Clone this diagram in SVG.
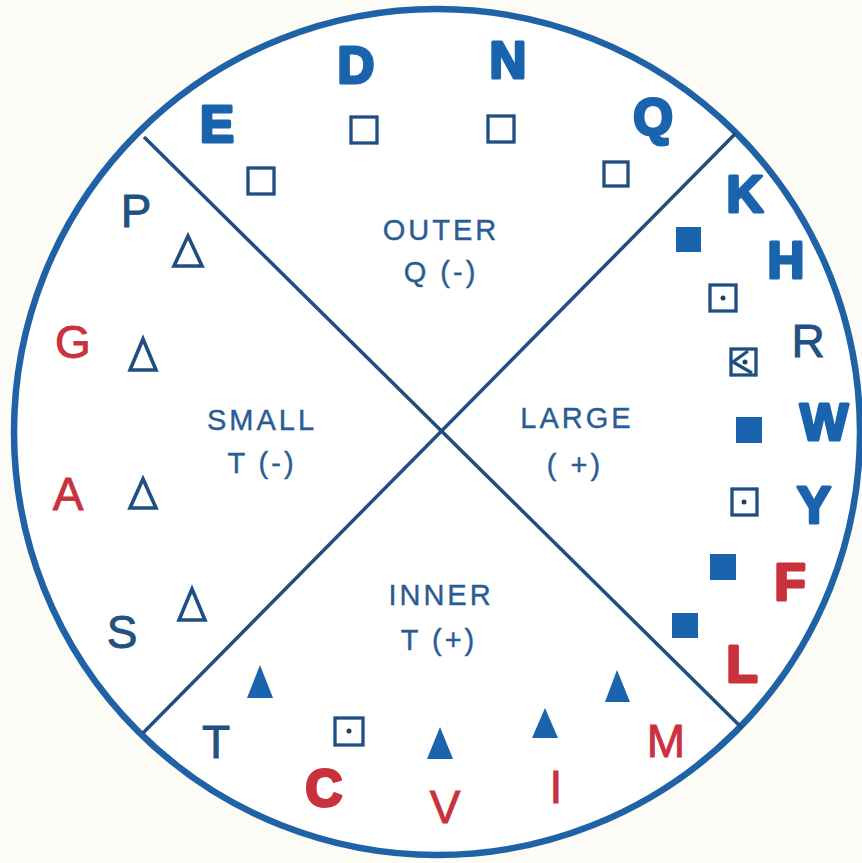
<svg xmlns="http://www.w3.org/2000/svg" width="862" height="863" viewBox="0 0 862 863">
<style>
.bg{fill:#fcfbf6}
.ring{fill:#ffffff;stroke:#1f62a6;stroke-width:6.5}
.div{stroke:#1f4f80;stroke-width:3.5;fill:none}
.lab{font-family:"Liberation Sans",Arial,sans-serif;font-size:29px;letter-spacing:3px;fill:#2a5c94;stroke:#2a5c94;stroke-width:0.4;text-anchor:middle}
.bb{font-family:"Liberation Sans",Arial,sans-serif;font-weight:bold;font-size:51px;fill:#1a63ad;stroke:#1a63ad;stroke-width:3.2;stroke-linejoin:round;text-anchor:middle}
.br{font-family:"Liberation Sans",Arial,sans-serif;font-weight:bold;font-size:51px;fill:#c9323c;stroke:#c9323c;stroke-width:3.2;stroke-linejoin:round;text-anchor:middle}
.nb{font-family:"Liberation Sans",Arial,sans-serif;font-size:46px;fill:#22517f;stroke:#22517f;stroke-width:0.9;text-anchor:middle}
.nr{font-family:"Liberation Sans",Arial,sans-serif;font-size:46px;fill:#c9323c;stroke:#c9323c;stroke-width:0.9;text-anchor:middle}
.hs{fill:none;stroke:#1f4f80;stroke-width:3.3}
.ht{fill:none;stroke:#1f4f80;stroke-width:3.6;stroke-linejoin:miter}
.fs{fill:#1a63ad}
.dot{fill:#1f3f60}
</style>
<rect class="bg" x="0" y="0" width="862" height="863"/>
<circle class="ring" cx="437" cy="432" r="423"/>
<g id="connectors">
<line class="div" x1="144" y1="137" x2="742" y2="728"/>
<line class="div" x1="736" y1="133" x2="143" y2="733"/>
</g>
<g id="outer">
<text class="lab" x="441" y="240">OUTER</text>
<text class="lab" x="441" y="282">Q (-)</text>
<text class="bb" x="217" y="142">E</text>
<text class="bb" x="356" y="83">D</text>
<text class="bb" x="508" y="78">N</text>
<text class="bb" x="653" y="135">Q</text>
<rect class="hs" x="351" y="117" width="26" height="26"/>
<rect class="hs" x="488" y="116" width="26" height="26"/>
<rect class="hs" x="248" y="168" width="26" height="26"/>
<rect class="hs" x="604" y="162" width="24" height="24"/>
</g>
<g id="small">
<text class="lab" x="262" y="430">SMALL</text>
<text class="lab" x="262" y="473">T (-)</text>
<text class="nb" x="136" y="227">P</text>
<text class="nr" x="73" y="358">G</text>
<text class="nr" x="68" y="510">A</text>
<text class="nb" x="122" y="648">S</text>
<polygon class="ht" points="188,236 174,266 202,266"/>
<polygon class="ht" points="143,339 130,370 156,370"/>
<polygon class="ht" points="143,479 130,508 156,508"/>
<polygon class="ht" points="192,589 179,620 205,620"/>
</g>
<g id="large">
<text class="lab" x="577" y="428">LARGE</text>
<text class="lab" x="575" y="475">( +)</text>
<text class="bb" x="745" y="212">K</text>
<text class="bb" x="786" y="278">H</text>
<text class="nb" x="808" y="357">R</text>
<text class="bb" x="824" y="440">W</text>
<text class="bb" x="814" y="523">Y</text>
<text class="br" x="790" y="600">F</text>
<text class="br" x="742" y="682">L</text>
<rect class="fs" x="676" y="227" width="25" height="25"/>
<rect class="hs" x="710" y="285" width="26" height="26"/>
<circle class="dot" cx="723" cy="298" r="2.5"/>
<g id="special">
<rect class="hs" x="731" y="349" width="25" height="26"/>
<polyline class="hs" points="748,351 733,362 752,373" stroke-width="2.5"/>
<circle class="dot" cx="745" cy="362" r="2.5"/>
</g>
<rect class="fs" x="736" y="417" width="26" height="26"/>
<rect class="hs" x="732" y="489" width="25" height="26"/>
<circle class="dot" cx="744" cy="502" r="2.5"/>
<rect class="fs" x="710" y="554" width="26" height="26"/>
<rect class="fs" x="672" y="613" width="26" height="25"/>
</g>
<g id="inner">
<text class="lab" x="441" y="605">INNER</text>
<text class="lab" x="439" y="650">T (+)</text>
<text class="nb" x="216" y="758">T</text>
<text class="br" x="324" y="806">C</text>
<text class="nr" x="445" y="823">V</text>
<text class="nr" x="556" y="803">I</text>
<text class="nr" x="666" y="757">M</text>
<polygon class="fs" points="260,665 247,698 273,698"/>
<rect class="hs" x="335" y="718" width="28" height="27"/>
<circle class="dot" cx="349" cy="731" r="2.5"/>
<polygon class="fs" points="440,727 427,759 453,759"/>
<polygon class="fs" points="545,708 532,738 558,738"/>
<polygon class="fs" points="617,670 605,702 630,702"/>
</g>
</svg>
